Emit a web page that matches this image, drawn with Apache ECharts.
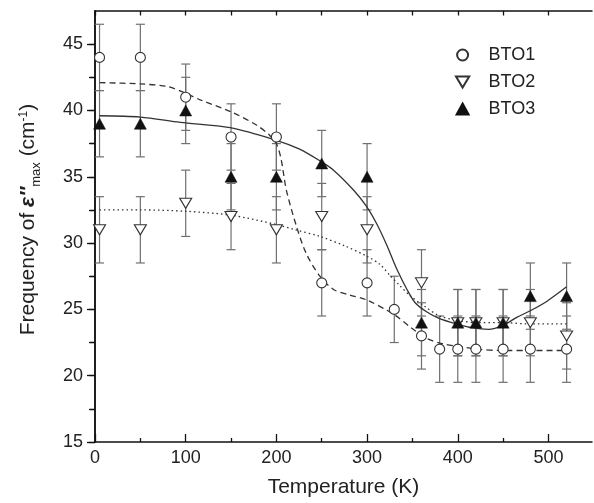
<!DOCTYPE html>
<html><head><meta charset="utf-8">
<script src="https://cdn.jsdelivr.net/npm/echarts@6/dist/echarts.min.js"></script>
<style>html,body{margin:0;padding:0;background:#fff}#c{width:594px;height:503px}</style>
</head><body><div id="c"></div>
<script>
// ---- data ----
const tempBTO1 = [5, 50, 100, 150, 200, 250, 300, 330, 360, 380, 400, 420, 450, 480, 520];
const freqBTO1 = [44, 44, 41, 38, 38, 27, 27, 25, 23, 22, 22, 22, 22, 22, 22];
const errBTO1  = [2.5, 2.5, 2.5, 2.5, 2.5, 2.5, 2.5, 2.5, 2.5, 2.5, 2.5, 2.5, 2.5, 2.5, 2.5];

const tempBTO23 = [5, 50, 100, 150, 200, 250, 300, 360, 400, 420, 450, 480, 520];
const freqBTO2  = [31, 31, 33, 32, 31, 32, 31, 27, 24, 24, 24, 24, 23];
const errBTO2   = [2.5, 2.5, 2.5, 2.5, 2.5, 2.5, 2.5, 2.5, 2.5, 2.5, 2.5, 2.5, 2.5];
const freqBTO3  = [39, 39, 40, 35, 35, 36, 35, 24, 24, 24, 24, 26, 26];
const errBTO3   = [2.5, 2.5, 2.5, 2.5, 2.5, 2.5, 2.5, 2.5, 2.5, 2.5, 2.5, 2.5, 2.5];

// fitted curves
const fitTempBTO1 = [5, 50, 80, 100, 116, 150, 178, 193, 200, 205, 211, 222, 233, 248, 263, 280, 300, 330, 347, 366, 384, 402, 421, 450, 480, 522];
const fitFreqBTO1 = [42.1, 42.0, 41.8, 41.3, 40.8, 39.9, 38.9, 38.1, 37.5, 36.4, 34.0, 31.3, 29.2, 27.5, 26.5, 26.1, 25.7, 24.6, 23.7, 22.8, 22.4, 22.2, 22.0, 21.9, 21.9, 21.9];
const fitTempBTO2 = [5, 50, 100, 150, 200, 221, 248, 275, 300, 314, 326, 336, 348, 362, 380, 398, 420, 450, 480, 522];
const fitFreqBTO2 = [32.5, 32.5, 32.4, 32.1, 31.4, 31.0, 30.5, 29.8, 29.0, 28.4, 27.5, 26.8, 26.0, 25.3, 24.5, 24.2, 24.0, 24.0, 23.9, 23.9];
const fitTempBTO3 = [5, 50, 94, 149, 200, 225, 248, 263, 285, 299, 311, 322, 333, 344, 353, 366, 380, 399, 417, 434, 450, 465, 480, 498, 520];
const fitFreqBTO3 = [39.6, 39.5, 39.1, 38.7, 37.75, 37.1, 36.2, 35.5, 34.0, 32.8, 31.4, 29.8, 28.0, 26.5, 25.5, 24.8, 24.3, 23.9, 23.6, 23.5, 23.8, 24.4, 24.9, 25.6, 26.7];

const xTickLabels = [0, 100, 200, 300, 400, 500];
const xTopTicks = [0, 50, 100, 150, 200, 250, 300, 350, 400, 450, 500];
const yTickLabels = [15, 20, 25, 30, 35, 40, 45];
const yRightTicks = [15, 17.5, 20, 22.5, 25, 27.5, 30, 32.5, 35, 37.5, 40, 42.5, 45];
const seriesNames = ['BTO1', 'BTO2', 'BTO3'];

// ---- helpers ----
const FONT = '"Liberation Sans", Arial, Helvetica, sans-serif';
const AX = '#111';
const zip = (a, b) => a.map((v, i) => [v, b[i]]);
const errData = (t, v, e) => t.map((x, i) => [x, v[i] - e[i], v[i] + e[i]]);

function errRender(params, api) {
  const x = api.value(0), lo = api.value(1), hi = api.value(2);
  const p1 = api.coord([x, hi]);
  const p2 = api.coord([x, lo]);
  const hw = 4.5;
  const style = { stroke: '#707070', lineWidth: 1.2, fill: null };
  return {
    type: 'group',
    children: [
      { type: 'line', shape: { x1: p1[0], y1: p1[1], x2: p2[0], y2: p2[1] }, style },
      { type: 'line', shape: { x1: p1[0] - hw, y1: p1[1], x2: p1[0] + hw, y2: p1[1] }, style },
      { type: 'line', shape: { x1: p2[0] - hw, y1: p2[1], x2: p2[0] + hw, y2: p2[1] }, style }
    ]
  };
}
function errSeries(name, t, v, e) {
  return { type: 'custom', name, renderItem: errRender, data: errData(t, v, e),
    encode: { x: 0, y: [1, 2] }, z: 1, silent: true };
}
function fitSeries(name, t, v, dash) {
  return { type: 'line', name, data: zip(t, v), showSymbol: false, symbol: 'none', smooth: 0.3,
    lineStyle: { color: '#333', width: 1.3, type: dash }, z: 2, silent: true };
}

const chart = echarts.init(document.getElementById('c'), null, { renderer: 'canvas' });
chart.setOption({
  animation: false,
  backgroundColor: '#fff',
  textStyle: { fontFamily: FONT },
  grid: { left: 95, right: 2, top: 11, bottom: 60, containLabel: false },
  legend: {
    data: seriesNames, orient: 'vertical', left: 455, top: 46,
    itemWidth: 42, itemHeight: 11, itemGap: 9, padding: 0,
    textStyle: { fontSize: 18, color: '#222', fontFamily: FONT },
    symbolKeepAspect: true
  },
  xAxis: [
    { type: 'value', min: 0, max: 548, interval: 100, position: 'bottom',
      axisLine: { lineStyle: { color: AX, width: 1.5 } },
      axisTick: { inside: true, length: 8, customValues: xTickLabels, lineStyle: { color: AX, width: 1.3 } },
      minorTick: { show: true, splitNumber: 2, length: 4, lineStyle: { color: AX, width: 1.3 } },
      axisLabel: { customValues: xTickLabels, fontSize: 18, color: '#222', margin: 7, fontFamily: FONT },
      splitLine: { show: false }, minorSplitLine: { show: false },
      name: 'Temperature (K)', nameLocation: 'middle', nameGap: 35,
      nameTextStyle: { fontSize: 21, color: '#222', fontFamily: FONT } },
    { type: 'value', min: 0, max: 548, interval: 50, position: 'top',
      axisLine: { lineStyle: { color: AX, width: 1.5 } },
      axisTick: { inside: true, length: 4.5, customValues: xTopTicks, lineStyle: { color: AX, width: 1.3 } },
      axisLabel: { show: false }, splitLine: { show: false } }
  ],
  yAxis: [
    { type: 'value', min: 15, max: 47.5, interval: 5, position: 'left',
      axisLine: { lineStyle: { color: AX, width: 1.5 } },
      axisTick: { inside: false, length: 8, customValues: yTickLabels, lineStyle: { color: AX, width: 1.3 } },
      minorTick: { show: true, splitNumber: 2, length: 5, lineStyle: { color: AX, width: 1.3 } },
      axisLabel: { customValues: yTickLabels, fontSize: 18, color: '#222', margin: 12, fontFamily: FONT },
      splitLine: { show: false }, minorSplitLine: { show: false },
      name: '{a|Frequency of }{e|ε″}{s|max}{a| (cm}{p|-1}{a|)}',
      nameLocation: 'middle', nameGap: 52,
      nameTextStyle: { fontSize: 21, color: '#222', fontFamily: FONT, padding: [0, 0, 0, 14],
        rich: {
          a: { fontSize: 21, lineHeight: 30, fontFamily: FONT, color: '#222' },
          e: { fontSize: 21, lineHeight: 30, fontStyle: 'italic', fontWeight: 'bold', fontFamily: FONT, color: '#222' },
          s: { fontSize: 13, lineHeight: 12, verticalAlign: 'bottom', fontFamily: FONT, color: '#222' },
          p: { fontSize: 12, height: 21, lineHeight: 21, verticalAlign: 'top', fontFamily: FONT, color: '#222' }
        } } },
    { type: 'value', min: 15, max: 47.5, interval: 2.5, position: 'right',
      axisLine: { lineStyle: { color: AX, width: 1.5 } },
      axisTick: { inside: true, length: 6, customValues: yRightTicks, lineStyle: { color: AX, width: 1.3 } },
      axisLabel: { show: false }, splitLine: { show: false } }
  ],
  series: [
    errSeries('errBTO1', tempBTO1, freqBTO1, errBTO1),
    errSeries('errBTO2', tempBTO23, freqBTO2, errBTO2),
    errSeries('errBTO3', tempBTO23, freqBTO3, errBTO3),
    fitSeries('fitBTO1', fitTempBTO1, fitFreqBTO1, [6, 4]),
    fitSeries('fitBTO2', fitTempBTO2, fitFreqBTO2, [1.5, 3]),
    fitSeries('fitBTO3', fitTempBTO3, fitFreqBTO3, 'solid'),
    { type: 'scatter', name: seriesNames[0], data: zip(tempBTO1, freqBTO1), symbol: 'circle', symbolSize: 10,
      itemStyle: { color: '#fff', borderColor: '#333', borderWidth: 1.1, opacity: 1 }, z: 4 },
    { type: 'scatter', name: seriesNames[1], data: zip(tempBTO23, freqBTO2), symbol: 'path://M0,0 L12,0 L6,10 Z', symbolSize: [12, 10],
      itemStyle: { color: '#fff', borderColor: '#333', borderWidth: 1.1, opacity: 1 }, z: 4 },
    { type: 'scatter', name: seriesNames[2], data: zip(tempBTO23, freqBTO3), symbol: 'path://M6,0 L12,11 L0,11 Z', symbolSize: [12, 11],
      itemStyle: { color: '#111', borderColor: '#111', borderWidth: 0.5, opacity: 1 }, z: 5 }
  ]
});
</script>
</body></html>
